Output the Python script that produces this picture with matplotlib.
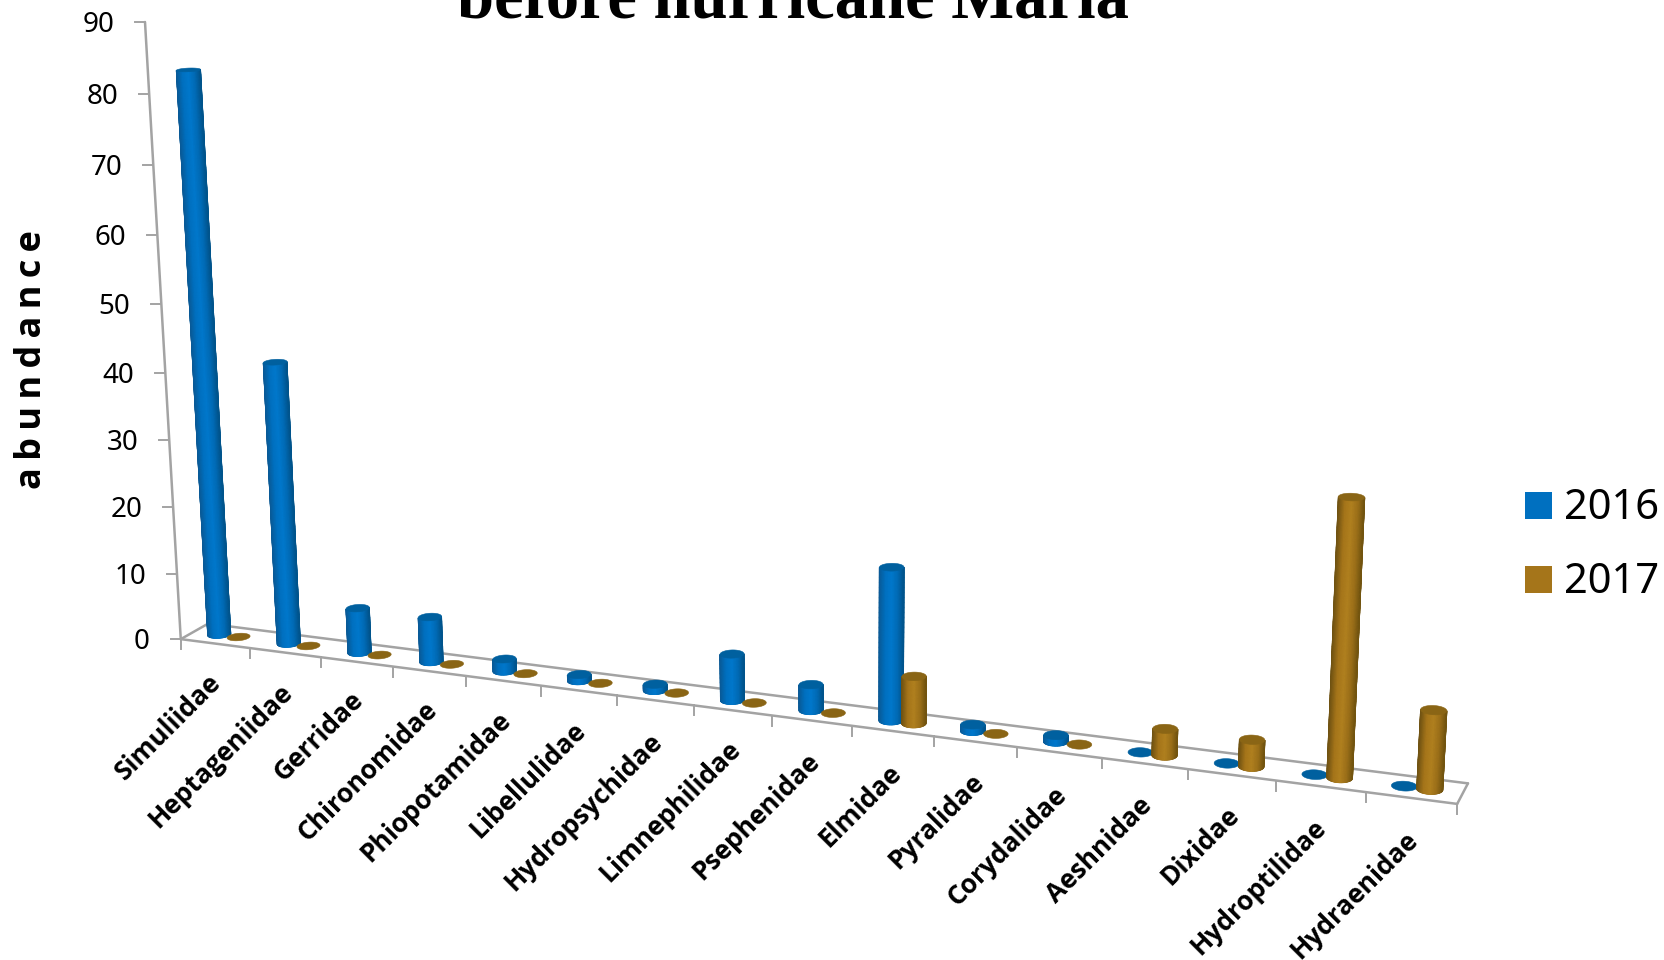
#! python

import numpy as np
import matplotlib
matplotlib.use('Agg')
import matplotlib.pyplot as plt
from matplotlib.colors import LinearSegmentedColormap
from matplotlib.patches import Rectangle, Polygon

# Chart data
families = ['Simuliidae', 'Heptageniidae', 'Gerridae', 'Chironomidae',
            'Phiopotamidae', 'Libellulidae', 'Hydropsychidae', 'Limnephilidae',
            'Psephenidae', 'Elmidae', 'Pyralidae', 'Corydalidae', 'Aeshnidae',
            'Dixidae', 'Hydroptilidae', 'Hydraenidae']
abundance_2016 = [83, 42, 6.7, 6.7, 1.8, 0.9, 0.9, 6.7, 3.7, 21.7, 0.9, 0.9, 0, 0, 0, 0]
abundance_2017 = [0, 0, 0, 0, 0, 0, 0, 0, 0, 6.7, 0, 0, 3.7, 3.7, 37.6, 10.7]
y_ticks = [0, 10, 20, 30, 40, 50, 60, 70, 80, 90]

# Where each rotated family label ends
label_x = [217, 289, 359, 433, 507, 582, 658, 737, 816, 897, 980, 1063, 1148,
           1235, 1322, 1414]
label_y = [678, 688, 696, 706, 716, 726, 737, 745, 757, 769, 778, 791, 802,
           811, 823, 836]

# Floor of the 3D box, in pixels
tick_px = np.array([181, 250, 321, 393, 466, 541, 617, 693, 772, 852, 935,
                    1018, 1101, 1188, 1276, 1366, 1457], dtype=float)
front_left = (180.5, 639.0)
front_right = (1457.0, 804.0)
back_left = (208.0, 624.0)
back_right = (1468.0, 783.0)
vertical_vanish = (853.0, 12240.0)
axis_top_y = 22.0

# Bar geometry in floor units
BAR_OFFSET = {2016: 0.36, 2017: 0.64}
RADIUS_X = 0.14
RADIUS_D = 0.23
DEPTH = 0.5

AXIS_GREY = '#a3a3a3'
BLUE = '#0070c0'
GOLD = '#a5751a'
BLUE_TOP = '#00609f'
GOLD_TOP = '#8a6515'
blue_side = LinearSegmentedColormap.from_list(
    'blue_side', ['#0a5a96', '#0070c0', '#0078cc', '#006bb6', '#00548c'])
gold_side = LinearSegmentedColormap.from_list(
    'gold_side', ['#6f5212', '#a5751a', '#b0801f', '#9c7019', '#72540f'])

# Fit the floor homography to the axis ticks and box corners
slope = (front_right[1] - front_left[1]) / (front_right[0] - front_left[0])
refs = [(i, 0, px, front_left[1] + (px - front_left[0]) * slope)
        for i, px in enumerate(tick_px)]
refs += [(0, 1, *back_left), (16, 1, *back_right)]
rows, rhs = [], []
for x, d, u, w in refs:
    rows.append([1, x, d, 0, 0, 0, -u * x, -u * d])
    rhs.append(u)
    rows.append([0, 0, 0, 1, x, d, -w * x, -w * d])
    rhs.append(w)
fit = np.linalg.lstsq(np.array(rows, float), np.array(rhs, float), rcond=None)[0]

# Vertical axis direction comes from its vanishing point
k = (fit[3] - axis_top_y) / (90 * (axis_top_y - vertical_vanish[1]))
camera = np.array([[fit[0], fit[1], fit[2], k * vertical_vanish[0]],
                   [fit[3], fit[4], fit[5], k * vertical_vanish[1]],
                   [1.0, fit[6], fit[7], k]])


def project(x, d, v):
    """Map category position, floor depth and abundance to pixels."""
    x, d, v = np.broadcast_arrays(x, d, v)
    h = camera[2, 0] + camera[2, 1] * x + camera[2, 2] * d + camera[2, 3] * v
    u = camera[0, 0] + camera[0, 1] * x + camera[0, 2] * d + camera[0, 3] * v
    w = camera[1, 0] + camera[1, 1] * x + camera[1, 2] * d + camera[1, 3] * v
    return u / h, w / h


def draw_cylinder(ax, center, value, side_cmap, top_color, zorder):
    """Draw one cylinder as a shaded side mesh with an elliptical cap."""
    theta = np.linspace(0, 2 * np.pi, 240, endpoint=False)
    cx = center + RADIUS_X * np.cos(theta)
    cd = DEPTH + RADIUS_D * np.sin(theta)
    base_u, base_w = project(cx, cd, 0)
    top_u, top_w = project(cx, cd, value)

    if value > 0:
        start = np.argmin(base_u)
        stop = np.argmax(base_u)
        count = (stop - start) % len(theta) + 1
        idx = (start + np.arange(count)) % len(theta)

        # silhouette underneath keeps the outer edges smooth
        outline = np.vstack([np.column_stack([base_u[idx], base_w[idx]]),
                             np.column_stack([top_u[idx], top_w[idx]])[::-1]])
        ax.add_patch(Polygon(outline, closed=True, facecolor=side_cmap(0.0),
                             edgecolor=side_cmap(0.0), linewidth=0.5,
                             zorder=zorder))

        # mesh cells close to square, long thin triangles shade unevenly
        n_rows = max(2, int((base_w[idx].max() - top_w[idx].max()) / 5) + 2)
        idx = idx[::5]
        heights = np.linspace(0, value, n_rows)[:, None]
        mesh_u, mesh_w = project(cx[idx][None, :], cd[idx][None, :], heights)
        shade = (base_u[idx] - base_u[idx].min()) / np.ptp(base_u[idx])
        mesh_c = np.tile(shade, (n_rows, 1))
        ax.pcolormesh(mesh_u, mesh_w, mesh_c, shading='gouraud', cmap=side_cmap,
                      vmin=0, vmax=1, zorder=zorder + 0.05)

    ax.add_patch(Polygon(np.column_stack([top_u, top_w]), closed=True,
                         facecolor=top_color, edgecolor=top_color,
                         linewidth=0.4, zorder=zorder + 0.1))


fig = plt.figure(figsize=(16.64, 9.6), dpi=100)
ax = fig.add_axes([0, 0, 1, 1])

# Box outline and axes
for x0, d0, v0, x1, d1, v1 in [(0, 0, 0, 16, 0, 0), (0, 1, 0, 16, 1, 0),
                               (0, 0, 0, 0, 1, 0), (16, 0, 0, 16, 1, 0),
                               (0, 0, 0, 0, 0, 90)]:
    us, ws = project(np.array([x0, x1]), np.array([d0, d1]), np.array([v0, v1]))
    ax.plot(us, ws, color=AXIS_GREY, lw=1.8, zorder=1, solid_capstyle='round')

# Value ticks and labels
for val in y_ticks:
    u, w = project(0, 0, val)
    ax.plot([u - 10, u], [w, w], color=AXIS_GREY, lw=1.4, zorder=1)
    ax.text(u - 31, w + 3, str(val), ha='right', va='center', fontsize=20,
            family='Noto Sans', color='black')

# Category ticks along the front edge
for i in range(len(families) + 1):
    u, w = project(i, 0, 0)
    ax.plot([u, u], [w, w + 10], color=AXIS_GREY, lw=1.4, zorder=1)

# Cylinders from left to right so later ones overlap earlier ones
for i in range(len(families)):
    draw_cylinder(ax, i + BAR_OFFSET[2016], abundance_2016[i],
                  blue_side, BLUE_TOP, 3 + i * 2)
    draw_cylinder(ax, i + BAR_OFFSET[2017], abundance_2017[i],
                  gold_side, GOLD_TOP, 4 + i * 2)

# Family labels
for name, lx, ly in zip(families, label_x, label_y):
    ax.text(lx, ly, name, rotation=45, rotation_mode='anchor', ha='right',
            va='center', fontsize=19, fontweight='bold', family='Open Sans',
            color='black')

ax.text(32, 360, '\u2009'.join('abundance'), rotation=90, ha='center', va='center',
        fontsize=26, fontweight='bold', family=['Open Sans', 'DejaVu Sans'],
        color='black')

ax.text(793, 17, 'before hurricane Maria', ha='center', va='baseline',
        fontsize=48, fontweight='bold', family='Liberation Serif', color='black')

# Legend
for label, color, top in [('2016', BLUE, 492), ('2017', GOLD, 566)]:
    ax.add_patch(Rectangle((1525, top), 27, 27, facecolor=color, edgecolor='none'))
    ax.text(1564, top + 16, label, ha='left', va='center', fontsize=30,
            family='Noto Sans', color='black')

ax.set_xlim(0, 1664)
ax.set_ylim(960, 0)
ax.axis('off')

fig.savefig('out.png', dpi=100, facecolor='white')
